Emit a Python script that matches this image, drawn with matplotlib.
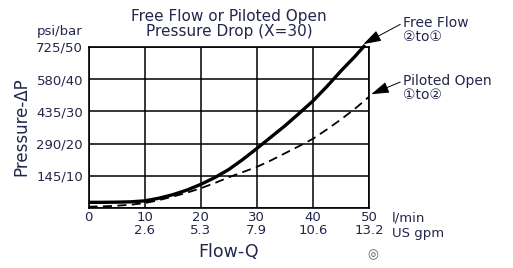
import numpy as np
import matplotlib
matplotlib.use("Agg")
import matplotlib.pyplot as plt

plt.rcParams['font.family'] = ['DejaVu Sans', 'Noto Sans CJK JP']

# flow in l/min, pressure drop in bar
flow_free = [0, 2.5, 5, 7.5, 10, 12.5, 15, 17.5, 20, 22.5, 25, 27.5, 30,
             32.5, 35, 37.5, 40, 42.5, 45, 47.5, 49.3]
dp_free = [1.85, 1.85, 1.9, 2.0, 2.3, 3.1, 4.2, 5.6, 7.4, 9.5, 12, 15.1, 18.5,
           22, 25.5, 29.3, 33.2, 37.7, 42.5, 47, 50.5]
flow_pilot = [0, 2.5, 5, 7.5, 10, 12.5, 15, 17.5, 20, 22.5, 25, 27.5, 30,
              32.5, 35, 37.5, 40, 42.5, 45, 47.5, 50]
dp_pilot = [0.5, 0.6, 0.8, 1.1, 1.6, 2.5, 3.6, 4.8, 6.2, 7.8, 9.6, 11.2, 12.8,
            14.8, 17, 19.2, 21.5, 24.4, 27.5, 30.8, 34.5]

x_lpm = [0, 10, 20, 30, 40, 50]
x_gpm = ['', '2.6', '5.3', '7.9', '10.6', '13.2']
y_bar = [0, 10, 20, 30, 40, 50]
y_labels = ['', '145/10', '290/20', '435/30', '580/40', '725/50']

txt = '#22264a'
W, H = 513, 268

fig = plt.figure(figsize=(W / 100, H / 100), dpi=100)
ax = fig.add_axes([88.5 / W, 1 - 208.3 / H, (369 - 88.5) / W, (208.3 - 46.7) / H])

ax.plot(flow_free, dp_free, color='black', lw=2.4, clip_on=False, solid_capstyle='butt')
ax.plot(flow_pilot, dp_pilot, color='black', lw=1.3, ls=(0, (5, 3)), clip_on=False)

ax.set_xlim(0, 50)
ax.set_ylim(0, 50)
ax.set_xticks(x_lpm)
ax.set_xticklabels([f"{a}\n{b}" for a, b in zip(x_lpm, x_gpm)], linespacing=0.95)
ax.set_yticks(y_bar)
ax.set_yticklabels(y_labels)
ax.tick_params(length=0, labelsize=9.5, labelcolor=txt, pad=4)
ax.tick_params(axis='x', pad=2)
ax.grid(True, color='black', lw=1.1)
for s in ax.spines.values():
    s.set_linewidth(1.2)

fig.text(229 / W, 1 - 24 / H, "Free Flow or Piloted Open\nPressure Drop (X=30)",
         ha='center', va='center', fontsize=11, color=txt, linespacing=1.0)
fig.text(82 / W, 1 - 31 / H, "psi/bar", ha='right', va='center', fontsize=9.5, color=txt)
fig.text(21 / W, 1 - 127 / H, "Pressure-ΔP", rotation=90, ha='center', va='center',
         fontsize=12, color=txt)
fig.text(229 / W, 1 - 252 / H, "Flow-Q", ha='center', va='center', fontsize=12.5, color=txt)
fig.text(392 / W, 1 - 218 / H, "l/min", ha='left', va='center', fontsize=9.5, color=txt)
fig.text(392 / W, 1 - 234 / H, "US gpm", ha='left', va='center', fontsize=9.5, color=txt)
fig.text(373 / W, 1 - 255 / H, "◎", ha='center', va='center', fontsize=9, color='#555555')

arrow = dict(arrowstyle='-|>,head_length=1.1,head_width=0.35', color='black', lw=0.7,
             shrinkA=0, shrinkB=0)
ax.annotate("Free Flow\n②to①", xy=(49.0, 50.8), xycoords='data',
            xytext=(403, H - 30), textcoords='figure pixels', annotation_clip=False,
            ha='left', va='center', fontsize=10, color=txt, linespacing=1.05,
            arrowprops=dict(arrow, relpos=(0, 0.75)))
ax.annotate("Piloted Open\n①to②", xy=(50.4, 35.3), xycoords='data',
            xytext=(403, H - 88), textcoords='figure pixels', annotation_clip=False,
            ha='left', va='center', fontsize=10, color=txt, linespacing=1.05,
            arrowprops=dict(arrow, relpos=(0, 0.75)))

fig.savefig("out.png", dpi=100)
